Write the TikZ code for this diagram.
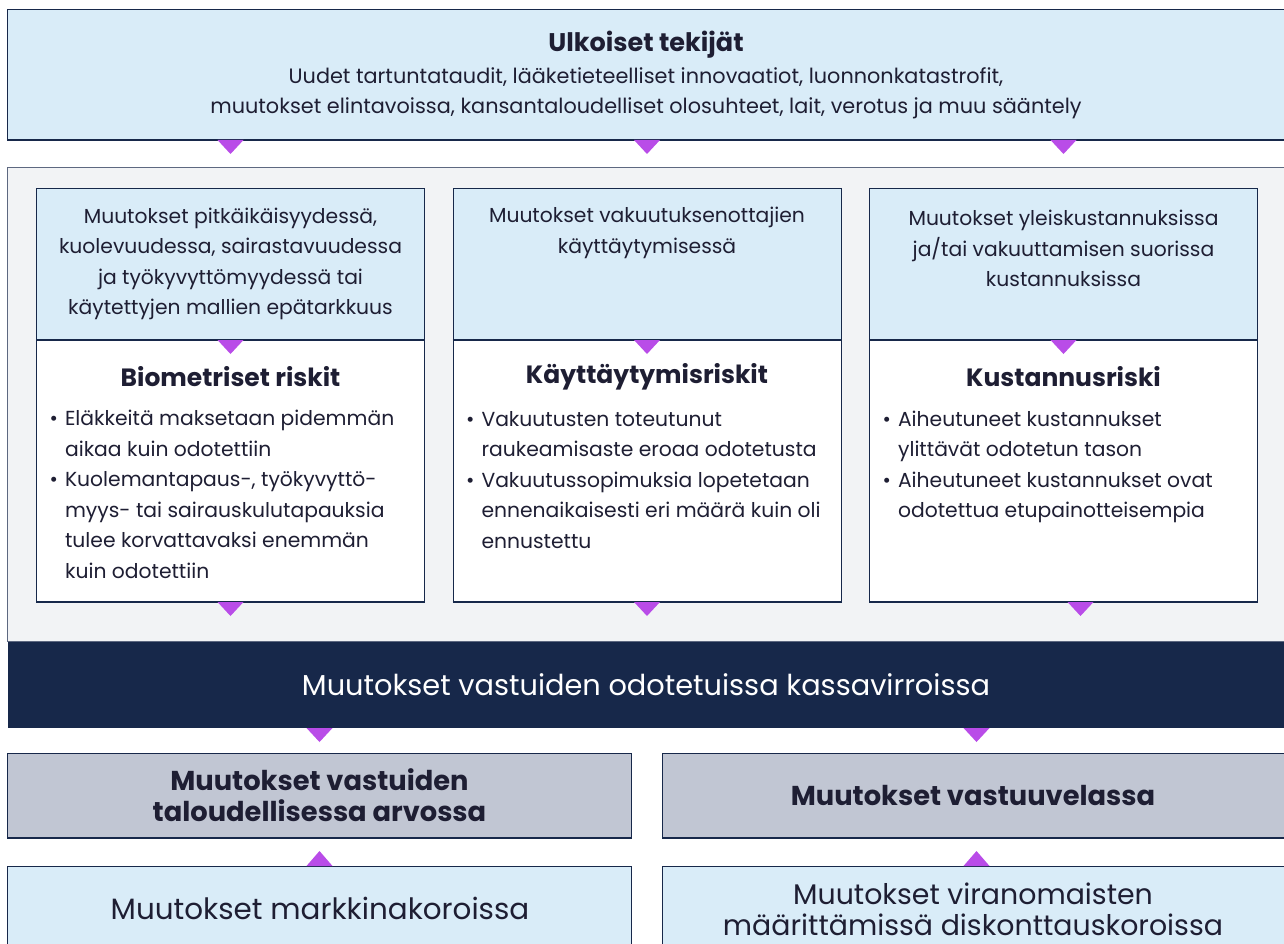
\documentclass[tikz,border=0pt]{standalone}
\usepackage{fontspec}
\setmainfont{Poppins}
\usetikzlibrary{calc}
\definecolor{navy}    {HTML}{17284A}
\definecolor{paleblue}{HTML}{D9ECF8}
\definecolor{panel}   {HTML}{F2F3F5}
\definecolor{slate}   {HTML}{C1C6D3}
\definecolor{violet}  {HTML}{B94CE8}
\definecolor{ink}     {HTML}{1E1E33}
\newcommand{\tridown}[1]{\fill[violet] #1 ++(-13,0) -- ++(26,0) -- ++(-13,14) -- cycle;}
\newcommand{\triup}[1]{\fill[violet] #1 ++(-13,0) -- ++(26,0) -- ++(-13,-15) -- cycle;}

\begin{document}
\begin{tikzpicture}[x=1pt, y=-1pt,
    box/.style={draw=navy, line width=1pt, inner sep=0pt, anchor=north west},
    txt/.style={text=ink, align=center, inner sep=0pt, font=\fontsize{20.3}{30.5}\selectfont},
    head/.style={text=ink, align=center, inner sep=0pt, font=\fontsize{25}{31}\selectfont\bfseries},
    bottomline/.style={draw=navy, line width=2.5pt}]
  \useasboundingbox (0,0) rectangle (1284,944);
  \clip (0,0) rectangle (1284,944);
  \fill[white] (0,0) rectangle (1284,944);

  % external factors
  \node[box, fill=paleblue, minimum width=1290pt, minimum height=130pt] (ext) at (7,9) {};
  \draw[bottomline] (ext.south west) -- (ext.south east);
  \node[head, font=\fontsize{25.5}{31}\selectfont\bfseries] (exthead) at (646,45) {Ulkoiset tekijät};
  \node[txt, font=\fontsize{20.8}{30}\selectfont] (exttext) at (646,93.5) {Uudet tartuntataudit, lääketieteelliset innovaatiot, luonnonkatastrofit,\\
    muutokset elintavoissa, kansantaloudelliset olosuhteet, lait, verotus ja muu sääntely};

  % risk panel
  \node[box, draw=navy!70, fill=panel, minimum width=1290pt, minimum height=474pt] (panel) at (7,167) {};
  \foreach \n [count=\i from 0] in {bio, beh, cost}
    {\node[box, fill=white, minimum width=388pt, minimum height=413pt] (\n) at (36+\i*416.5, 188) {};
     \node[box, fill=paleblue, minimum width=388pt, minimum height=151pt] (\n-top) at (36+\i*416.5, 188) {};
     \draw[bottomline] (\n.south west) -- (\n.south east);
     \draw[navy, line width=1.6pt] (\n-top.south west) -- (\n-top.south east);
     \tridown{(\n-top.north |- ext.south)}
     \tridown{(\n-top.south)}}
  \tridown{(bio.south)}
  \tridown{(beh.south)}
  \tridown{($(cost.south)+(17,0)$)}

  \node[txt] (biotext) at (bio-top.center |- 0,264) {Muutokset pitkäikäisyydessä,\\ kuolevuudessa, sairastavuudessa\\
    ja työkyvyttömyydessä tai\\ käytettyjen mallien epätarkkuus};
  \node[txt] (behtext) at (beh-top.center |- 0,233) {Muutokset vakuutuksenottajien\\ käyttäytymisessä};
  \node[txt] (costtext) at (cost-top.center |- 0,248.5) {Muutokset yleiskustannuksissa\\ ja/tai vakuuttamisen suorissa\\ kustannuksissa};

  \node[head] (biohead) at (bio.north |- 0,377) {Biometriset riskit};
  \node[head] (behhead) at (beh.north |- 0,377) {Käyttäytymisriskit};
  \node[head] (costhead) at (cost.north |- 0,377) {Kustannusriski};

  \node[txt, anchor=west, align=left] (biolist) at (49.5,496) {\begin{tabular}{@{}l@{\hspace{7pt}}l@{}}
    \textbullet & Eläkkeitä maksetaan pidemmän\\ & aikaa kuin odotettiin\\
    \textbullet & Kuolemantapaus-, työkyvyttö-\\ & myys- tai sairauskulutapauksia\\
    & tulee korvattavaksi enemmän\\ & kuin odotettiin\end{tabular}};
  \node[txt, anchor=west, align=left] (behlist) at (466,481) {\begin{tabular}{@{}l@{\hspace{7pt}}l@{}}
    \textbullet & Vakuutusten toteutunut\\ & raukeamisaste eroaa odotetusta\\
    \textbullet & Vakuutussopimuksia lopetetaan\\ & ennenaikaisesti eri määrä kuin oli\\
    & ennustettu\end{tabular}};
  \node[txt, anchor=west, align=left] (costlist) at (882.5,466) {\begin{tabular}{@{}l@{\hspace{7pt}}l@{}}
    \textbullet & Aiheutuneet kustannukset\\ & ylittävät odotetun tason\\
    \textbullet & Aiheutuneet kustannukset ovat\\ & odotettua etupainotteisempia\end{tabular}};

  % cash flows
  \node[box, draw=none, fill=navy, minimum width=1290pt, minimum height=86pt] (band) at (7,641) {};
  \node[text=white, inner sep=0pt, font=\fontsize{28.8}{32}\selectfont] (bandtext) at (646,685)
    {Muutokset vastuiden odotetuissa kassavirroissa};

  % values and rates
  \node[box, fill=slate, minimum width=624pt, minimum height=84pt] (value) at (7,753) {};
  \node[box, fill=slate, minimum width=628pt, minimum height=84pt] (liab) at (662,753) {};
  \node[box, fill=paleblue, minimum width=624pt, minimum height=90pt] (market) at (7,866) {};
  \node[box, fill=paleblue, minimum width=628pt, minimum height=90pt] (disc) at (662,866) {};
  \foreach \n in {value, liab}
    {\draw[bottomline] (\n.south west) -- (\n.south east);
     \tridown{(\n.north |- band.south)}}
  \triup{(market.north)}
  \triup{(disc.north -| liab.north)}

  \node[head, font=\fontsize{27.3}{31}\selectfont\bfseries] (valuetext) at (value.center) {Muutokset vastuiden\\ taloudellisessa arvossa};
  \node[head, font=\fontsize{27.3}{31}\selectfont\bfseries] (liabtext) at (value.center -| 973,0) {Muutokset vastuuvelassa};
  \node[txt, font=\fontsize{29.4}{31}\selectfont] (markettext) at (320,908) {Muutokset markkinakoroissa};
  \node[txt, font=\fontsize{28.4}{31}\selectfont] (disctext) at (973,909.5) {Muutokset viranomaisten\\ määrittämissä diskonttauskoroissa};
\end{tikzpicture}
\end{document}
